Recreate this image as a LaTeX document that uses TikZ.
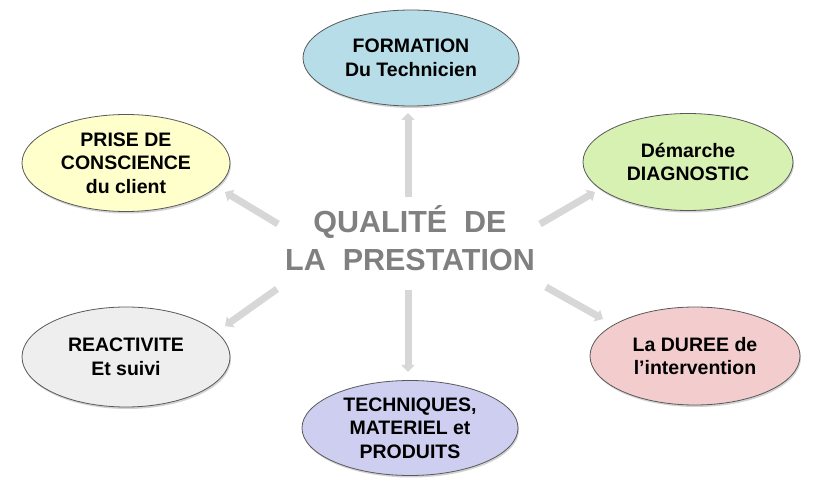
\documentclass[tikz,border=0pt]{standalone}
\usepackage{fontspec}
\setmainfont{Liberation Sans}
\usetikzlibrary{arrows.meta,shadows,shapes.geometric}
\definecolor{cform}{RGB}{183,222,232}
\definecolor{cprise}{RGB}{255,255,204}
\definecolor{cdiag}{RGB}{215,241,178}
\definecolor{creac}{RGB}{238,238,238}
\definecolor{ctech}{RGB}{206,206,240}
\definecolor{cduree}{RGB}{243,205,205}
\definecolor{arrgray}{RGB}{215,215,215}
\definecolor{titlegray}{RGB}{128,128,128}
\tikzset{
  bubble/.style={ellipse, draw=black!65, line width=0.8pt, inner sep=0pt,
    font=\fontsize{19.5}{23.5}\selectfont\bfseries, align=center,
    drop shadow={shadow xshift=1pt, shadow yshift=-2pt, opacity=0.35}},
  spoke/.style={draw=arrgray, line width=7pt,
    -{Triangle[width=13pt,length=7pt]}},
}
\begin{document}
\begin{tikzpicture}[x=1pt,y=-1pt]
\useasboundingbox[fill=white] (0,0) rectangle (823,489);
% ellipses
\node[bubble, fill=cform, minimum width=216, minimum height=96] (form) at (411,58)
  {FORMATION\\Du Technicien};
\node[bubble, fill=cprise, minimum width=208, minimum height=97] (prise) at (126,163)
  {PRISE DE\\CONSCIENCE\\du client};
\node[bubble, fill=cdiag, minimum width=210, minimum height=97] (diag) at (688,162)
  {Démarche\\DIAGNOSTIC};
\node[bubble, fill=creac, minimum width=208, minimum height=100] (reac) at (126,357)
  {REACTIVITE\\Et suivi};
\node[bubble, fill=ctech, minimum width=216, minimum height=95] (tech) at (410,428)
  {TECHNIQUES,\\MATERIEL et\\PRODUITS};
\node[bubble, fill=cduree, minimum width=210, minimum height=98] (duree) at (695,356)
  {La DUREE de\\l’intervention};
% centre
\node[text=titlegray, font=\fontsize{30.5}{38}\selectfont\bfseries, align=center] (centre) at (410,238)
  {QUALITÉ~~DE\\LA~~PRESTATION};
% spoke coordinates
\coordinate (tU) at (408,197);  \coordinate (hU) at (408,113);
\coordinate (tD) at (408,290);  \coordinate (hD) at (408,372);
\coordinate (tUL) at (278,224); \coordinate (hUL) at (225,192);
\coordinate (tUR) at (540,224); \coordinate (hUR) at (595,192);
\coordinate (tDL) at (277,289); \coordinate (hDL) at (225,326);
\coordinate (tDR) at (546,287); \coordinate (hDR) at (603,319);
\draw[spoke] (tU) -- (hU);
\draw[spoke] (tD) -- (hD);
\draw[spoke] (tUL) -- (hUL);
\draw[spoke] (tUR) -- (hUR);
\draw[spoke] (tDL) -- (hDL);
\draw[spoke] (tDR) -- (hDR);
\end{tikzpicture}
\end{document}
